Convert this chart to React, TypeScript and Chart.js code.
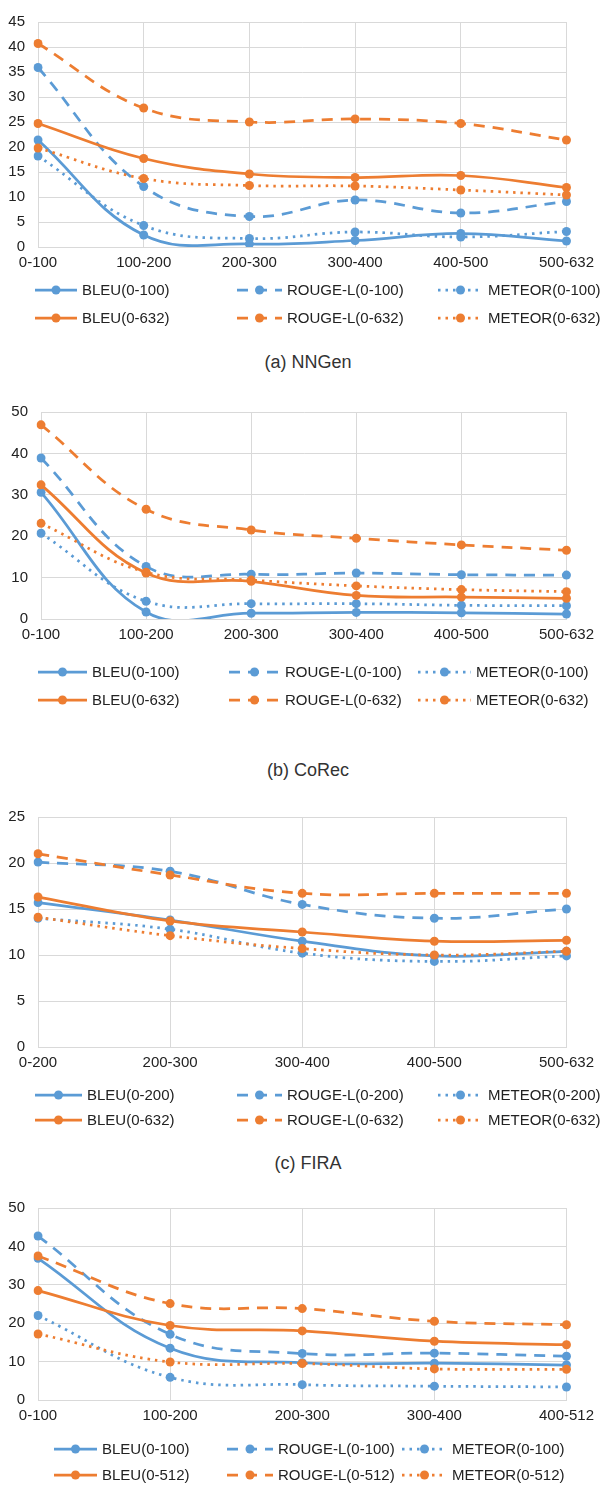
import React, { useEffect, useRef } from "react";
import { Chart, registerables } from "chart.js";

Chart.register(...registerables);

const BLUE = "#5B9BD5";
const ORANGE = "#ED7D31";
const FONT = "'Liberation Sans', Arial, sans-serif";
const GRID = "#d9d9d9";
const TEXT = "#222222";

// ---------- (a) NNGen ----------
const nngenCategories = ["0-100", "100-200", "200-300", "300-400", "400-500", "500-632"];
const nngenLabels = ["BLEU(0-100)", "ROUGE-L(0-100)", "METEOR(0-100)", "BLEU(0-632)", "ROUGE-L(0-632)", "METEOR(0-632)"];
const nngenBleuSub = [21.4, 2.4, 0.6, 1.3, 2.7, 1.2];
const nngenRougeSub = [35.9, 12.1, 6.1, 9.4, 6.8, 9.1];
const nngenMeteorSub = [18.2, 4.3, 1.7, 3.0, 2.0, 3.1];
const nngenBleuAll = [24.7, 17.7, 14.6, 13.9, 14.3, 11.9];
const nngenRougeAll = [40.7, 27.8, 25.0, 25.6, 24.7, 21.4];
const nngenMeteorAll = [19.8, 13.7, 12.3, 12.2, 11.4, 10.4];
const nngenYMax = 45;
const nngenYStep = 5;

// ---------- (b) CoRec ----------
const corecCategories = ["0-100", "100-200", "200-300", "300-400", "400-500", "500-632"];
const corecLabels = ["BLEU(0-100)", "ROUGE-L(0-100)", "METEOR(0-100)", "BLEU(0-632)", "ROUGE-L(0-632)", "METEOR(0-632)"];
const corecBleuSub = [30.6, 1.7, 1.4, 1.6, 1.5, 1.2];
const corecRougeSub = [38.9, 12.7, 10.8, 11.1, 10.7, 10.6];
const corecMeteorSub = [20.7, 4.3, 3.7, 3.7, 3.3, 3.2];
const corecBleuAll = [32.4, 11.1, 9.1, 5.7, 5.3, 5.0];
const corecRougeAll = [46.9, 26.5, 21.5, 19.5, 17.9, 16.6];
const corecMeteorAll = [23.1, 11.3, 9.4, 8.0, 7.1, 6.6];
const corecYMax = 50;
const corecYStep = 10;

// ---------- (c) FIRA ----------
const firaCategories = ["0-200", "200-300", "300-400", "400-500", "500-632"];
const firaLabels = ["BLEU(0-200)", "ROUGE-L(0-200)", "METEOR(0-200)", "BLEU(0-632)", "ROUGE-L(0-632)", "METEOR(0-632)"];
const firaBleuSub = [15.7, 13.8, 11.5, 9.9, 10.4];
const firaRougeSub = [20.1, 19.1, 15.5, 14.0, 15.0];
const firaMeteorSub = [14.0, 12.8, 10.2, 9.3, 9.9];
const firaBleuAll = [16.3, 13.7, 12.5, 11.5, 11.6];
const firaRougeAll = [21.0, 18.7, 16.7, 16.7, 16.7];
const firaMeteorAll = [14.1, 12.1, 10.7, 10.0, 10.4];
const firaYMax = 25;
const firaYStep = 5;

// ---------- (d) fourth dataset ----------
const dCategories = ["0-100", "100-200", "200-300", "300-400", "400-512"];
const dLabels = ["BLEU(0-100)", "ROUGE-L(0-100)", "METEOR(0-100)", "BLEU(0-512)", "ROUGE-L(0-512)", "METEOR(0-512)"];
const dBleuSub = [36.9, 13.5, 9.7, 9.6, 9.1];
const dRougeSub = [42.7, 17.1, 12.1, 12.2, 11.4];
const dMeteorSub = [22.0, 5.9, 4.0, 3.6, 3.4];
const dBleuAll = [28.5, 19.4, 18.0, 15.3, 14.4];
const dRougeAll = [37.5, 25.1, 23.8, 20.5, 19.6];
const dMeteorAll = [17.2, 9.9, 9.5, 8.1, 8.0];
const dYMax = 50;
const dYStep = 10;

const SERIES_COLORS = [BLUE, BLUE, BLUE, ORANGE, ORANGE, ORANGE];
const SERIES_DASH = [[], [11, 8], [2.5, 5], [], [11, 8], [2.5, 5]];

type Layout = {
  height: number;
  top: number;
  bottom: number;
  left: number;
  right: number;
  symX: number[];
  textX: number[];
  rowY: number[];
};

function makeChart(
  canvas: HTMLCanvasElement,
  categories: string[],
  labels: string[],
  series: number[][],
  yMax: number,
  yStep: number,
  L: Layout
) {
  const axisH = 30;
  const legendPlugin = {
    id: "excelLegend",
    afterDraw(chart: any) {
      const ctx = chart.ctx;
      chart.data.datasets.forEach((ds: any, i: number) => {
        const col = i % 3;
        const row = Math.floor(i / 3);
        const x0 = L.symX[col];
        const x1 = L.textX[col] - 5;
        const y = L.rowY[row];
        ctx.save();
        ctx.strokeStyle = ds.borderColor;
        ctx.lineWidth = ds.borderWidth;
        ctx.setLineDash(ds.borderDash || []);
        ctx.beginPath();
        ctx.moveTo(x0, y);
        ctx.lineTo(x1, y);
        ctx.stroke();
        ctx.setLineDash([]);
        ctx.fillStyle = ds.borderColor;
        ctx.beginPath();
        ctx.arc((x0 + x1) / 2, y, 4.5, 0, Math.PI * 2);
        ctx.fill();
        ctx.fillStyle = TEXT;
        ctx.font = `15px ${FONT}`;
        ctx.textBaseline = "middle";
        ctx.textAlign = "left";
        ctx.fillText(ds.label, L.textX[col], y + 1);
        ctx.restore();
      });
    },
  };

  return new Chart(canvas, {
    type: "line",
    data: {
      labels: categories,
      datasets: series.map((values, i) => ({
        label: labels[i],
        data: values,
        borderColor: SERIES_COLORS[i],
        backgroundColor: SERIES_COLORS[i],
        pointBackgroundColor: SERIES_COLORS[i],
        pointBorderColor: SERIES_COLORS[i],
        borderWidth: 2.75,
        borderDash: SERIES_DASH[i],
        pointRadius: 4.5,
        pointBorderWidth: 0,
        tension: 0.4,
        capBezierPoints: false,
        fill: false,
        order: 5 - i,
      })),
    },
    options: {
      responsive: false,
      animation: false,
      devicePixelRatio: 1,
      elements: { line: { capBezierPoints: false } },
      layout: {
        padding: {
          left: 0,
          top: L.top,
          right: 601 - L.right,
          bottom: L.height - L.bottom - axisH,
        },
      },
      plugins: {
        legend: { display: false },
        tooltip: { enabled: false },
        title: { display: false },
      },
      scales: {
        x: {
          type: "category",
          offset: false,
          grid: { color: GRID, lineWidth: 1, drawTicks: false },
          border: { color: GRID, width: 1 },
          ticks: {
            color: TEXT,
            font: { family: FONT, size: 15 },
            padding: 7,
            maxRotation: 0,
            autoSkip: false,
          },
          afterFit: (scale: any) => {
            scale.height = axisH;
          },
        },
        y: {
          min: 0,
          max: yMax,
          grid: { color: GRID, lineWidth: 1, drawTicks: false },
          border: { color: GRID, width: 1 },
          ticks: {
            stepSize: yStep,
            color: TEXT,
            font: { family: FONT, size: 15 },
            padding: 13,
          },
          afterFit: (scale: any) => {
            scale.width = L.left;
          },
        },
      },
    },
    plugins: [legendPlugin],
  } as any);
}

type PanelProps = {
  top: number;
  categories: string[];
  labels: string[];
  series: number[][];
  yMax: number;
  yStep: number;
  layout: Layout;
};

function Panel({ top, categories, labels, series, yMax, yStep, layout }: PanelProps) {
  const ref = useRef<HTMLCanvasElement | null>(null);
  useEffect(() => {
    if (!ref.current) return;
    const chart = makeChart(ref.current, categories, labels, series, yMax, yStep, layout);
    return () => chart.destroy();
  }, []);
  return (
    <canvas
      ref={ref}
      width={601}
      height={layout.height}
      style={{ position: "absolute", left: 0, top, width: 601, height: layout.height }}
    />
  );
}

function Caption({ text, y }: { text: string; y: number }) {
  return (
    <div
      style={{
        position: "absolute",
        left: 0,
        width: 616,
        top: y - 11,
        textAlign: "center",
        fontFamily: FONT,
        fontSize: 18,
        lineHeight: "22px",
        color: "#333",
      }}
    >
      {text}
    </div>
  );
}

export default function App() {
  return (
    <div
      style={{
        position: "absolute",
        left: 0,
        top: 0,
        width: 601,
        height: 1486,
        background: "#fff",
        overflow: "hidden",
      }}
    >
      <Panel
        top={0}
        categories={nngenCategories}
        labels={nngenLabels}
        series={[nngenBleuSub, nngenRougeSub, nngenMeteorSub, nngenBleuAll, nngenRougeAll, nngenMeteorAll]}
        yMax={nngenYMax}
        yStep={nngenYStep}
        layout={{
          height: 335,
          top: 13,
          bottom: 247,
          left: 38,
          right: 571,
          symX: [35, 237, 438],
          textX: [82, 287, 488],
          rowY: [290, 318],
        }}
      />
      <Caption text="(a) NNGen" y={362} />
      <Panel
        top={390}
        categories={corecCategories}
        labels={corecLabels}
        series={[corecBleuSub, corecRougeSub, corecMeteorSub, corecBleuAll, corecRougeAll, corecMeteorAll]}
        yMax={corecYMax}
        yStep={corecYStep}
        layout={{
          height: 330,
          top: 13,
          bottom: 229,
          left: 41,
          right: 568,
          symX: [38, 229, 418],
          textX: [92, 285, 476],
          rowY: [282, 310],
        }}
      />
      <Caption text="(b) CoRec" y={770} />
      <Panel
        top={795}
        categories={firaCategories}
        labels={firaLabels}
        series={[firaBleuSub, firaRougeSub, firaMeteorSub, firaBleuAll, firaRougeAll, firaMeteorAll]}
        yMax={firaYMax}
        yStep={firaYStep}
        layout={{
          height: 340,
          top: 17,
          bottom: 252,
          left: 38,
          right: 572,
          symX: [35, 237, 438],
          textX: [87, 287, 488],
          rowY: [300, 325],
        }}
      />
      <Caption text="(c) FIRA" y={1163} />
      <Panel
        top={1186}
        categories={dCategories}
        labels={dLabels}
        series={[dBleuSub, dRougeSub, dMeteorSub, dBleuAll, dRougeAll, dMeteorAll]}
        yMax={dYMax}
        yStep={dYStep}
        layout={{
          height: 300,
          top: 18,
          bottom: 214,
          left: 38,
          right: 572,
          symX: [54, 227, 402],
          textX: [102, 278, 452],
          rowY: [263, 289],
        }}
      />
    </div>
  );
}
